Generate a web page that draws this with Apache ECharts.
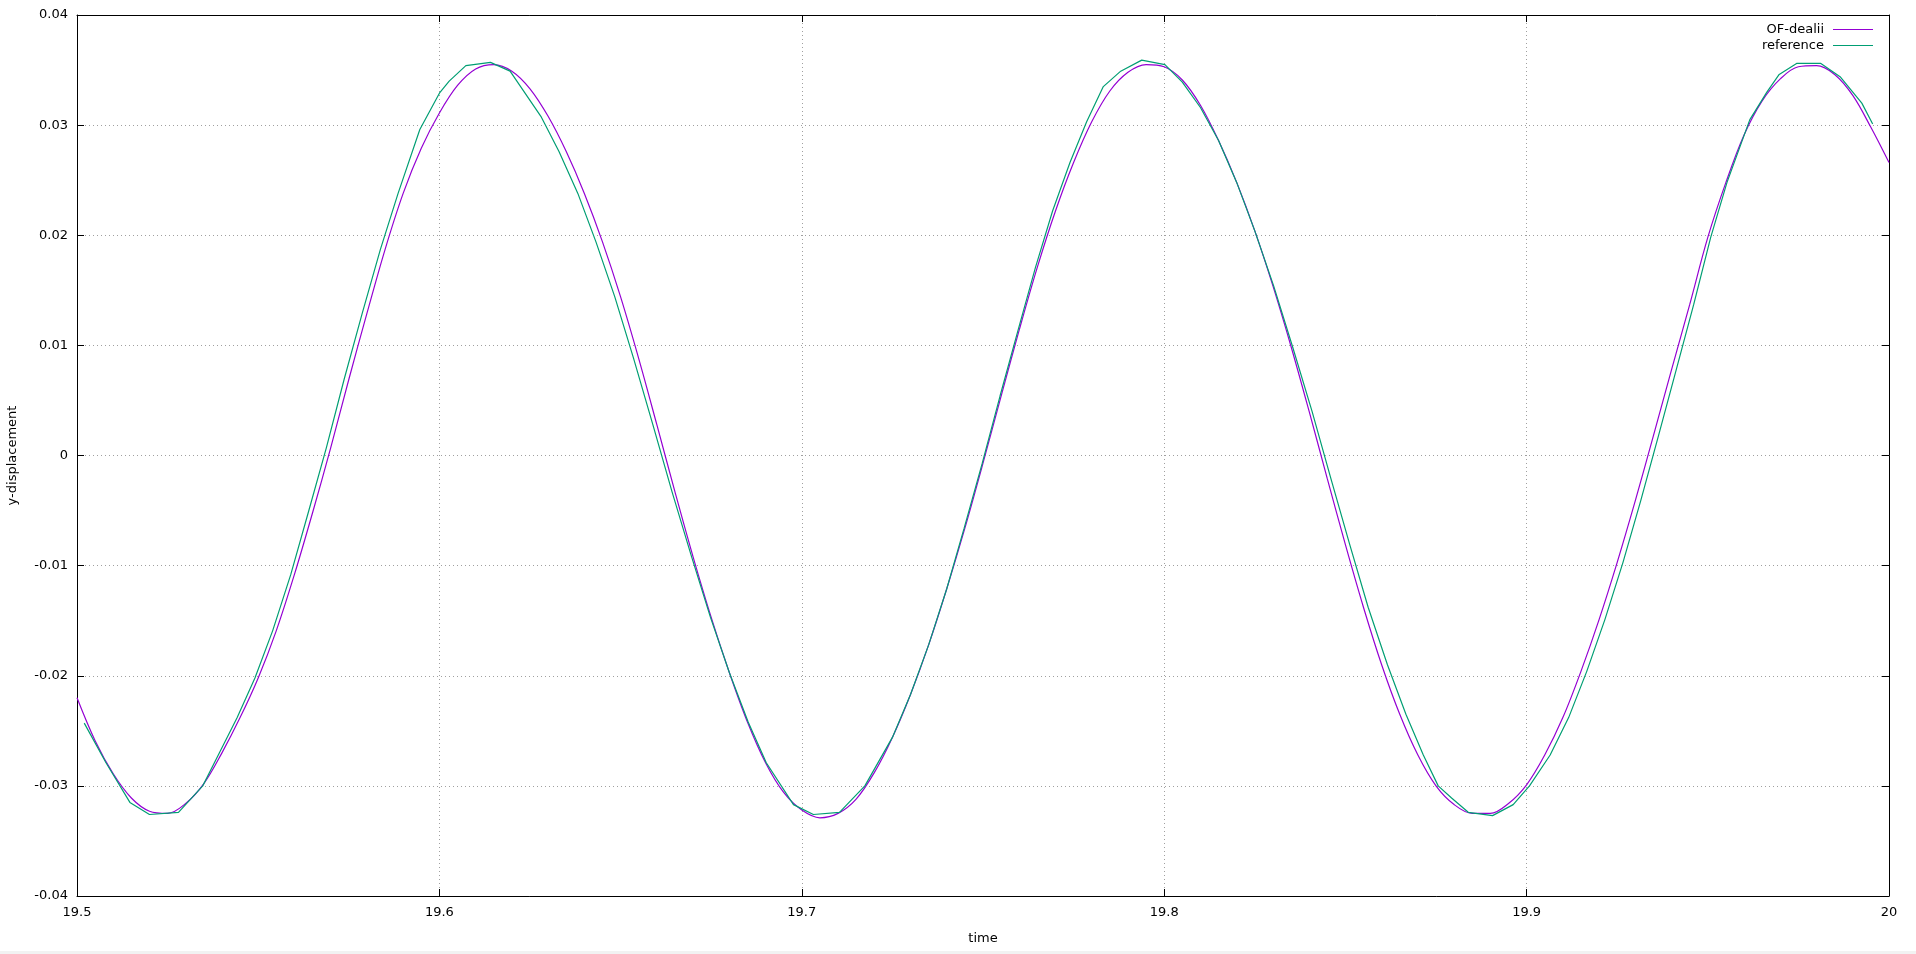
<!DOCTYPE html>
<html>
<head>
<meta charset="utf-8">
<script src="https://cdn.jsdelivr.net/npm/echarts@6/dist/echarts.min.js"></script>
<style>
  html, body { margin: 0; padding: 0; background: #f2f2f2; }
  #chart { width: 1916px; height: 951px; background: #ffffff; }
</style>
</head>
<body>
<div id="chart"></div>
<script>
// ---- data ----
const seriesNames = ['OF-dealii', 'reference'];

const xTicks = [19.5, 19.6, 19.7, 19.8, 19.9, 20.0];
const yTicks = [-0.04, -0.03, -0.02, -0.01, 0, 0.01, 0.02, 0.03, 0.04];

const ofTime = [
  19.500, 19.505, 19.510, 19.515, 19.520, 19.525, 19.530, 19.535, 19.540, 19.545,
  19.550, 19.555, 19.560, 19.565, 19.570, 19.575, 19.580, 19.585, 19.590, 19.595,
  19.600, 19.605, 19.610, 19.615, 19.620, 19.625, 19.630, 19.635, 19.640, 19.645,
  19.650, 19.655, 19.660, 19.665, 19.670, 19.675, 19.680, 19.685, 19.690, 19.695,
  19.700, 19.705, 19.710, 19.715, 19.720, 19.725, 19.730, 19.735, 19.740, 19.745,
  19.750, 19.755, 19.760, 19.765, 19.770, 19.775, 19.780, 19.785, 19.790, 19.795,
  19.800, 19.805, 19.810, 19.815, 19.820, 19.825, 19.830, 19.835, 19.840, 19.845,
  19.850, 19.855, 19.860, 19.865, 19.870, 19.875, 19.880, 19.885, 19.890, 19.895,
  19.900, 19.905, 19.910, 19.915, 19.920, 19.925, 19.930, 19.935, 19.940, 19.945,
  19.950, 19.955, 19.960, 19.965, 19.970, 19.975, 19.980, 19.985, 19.990, 19.995,
  20.000
];
const ofDisp = [
  -0.0220, -0.0259, -0.0289, -0.0311, -0.0323, -0.0325, -0.0316, -0.0298, -0.0270, -0.0238,
  -0.0202, -0.0159, -0.0108, -0.0052, 0.0007, 0.0069, 0.0129, 0.0187, 0.0238, 0.0279,
  0.0311, 0.0336, 0.0351, 0.0355, 0.0349, 0.0333, 0.0308, 0.0276, 0.0238, 0.0194,
  0.0144, 0.0088, 0.0028, -0.0033, -0.0092, -0.0147, -0.0197, -0.0242, -0.0279, -0.0306,
  -0.0322, -0.0329, -0.0325, -0.0312, -0.0288, -0.0256, -0.0217, -0.0172, -0.0121, -0.0066,
  -0.0007, 0.0054, 0.0114, 0.0171, 0.0222, 0.0266, 0.0303, 0.0331, 0.0348, 0.0355,
  0.0353, 0.0341, 0.0318, 0.0286, 0.0248, 0.0204, 0.0154, 0.0099, 0.0040, -0.0021,
  -0.0081, -0.0138, -0.0190, -0.0235, -0.0272, -0.0300, -0.0317, -0.0325, -0.0325, -0.0316,
  -0.0299, -0.0272, -0.0238, -0.0196, -0.0149, -0.0097, -0.0041, 0.0018, 0.0078, 0.0137,
  0.0198, 0.0248, 0.0291, 0.0322, 0.0342, 0.0353, 0.0354, 0.0346, 0.0327, 0.0298,
  0.0266
];

const refTime = [
  19.5020, 19.5080, 19.5146, 19.5200, 19.5280, 19.5347, 19.5393, 19.5442, 19.5491, 19.5540,
  19.5590, 19.5638, 19.5688, 19.5737, 19.5787, 19.5837, 19.5886, 19.5946, 19.6000, 19.6027,
  19.6073, 19.6141, 19.6195, 19.6280, 19.6330, 19.6382, 19.6432, 19.6484, 19.6536, 19.6589,
  19.6642, 19.6696, 19.6748, 19.6800, 19.6852, 19.6902, 19.6977, 19.7032, 19.7104, 19.7174,
  19.7250, 19.7300, 19.7350, 19.7400, 19.7448, 19.7498, 19.7547, 19.7597, 19.7645, 19.7692,
  19.7740, 19.7786, 19.7832, 19.7880, 19.7938, 19.8002, 19.8050, 19.8100, 19.8150, 19.8200,
  19.8250, 19.8302, 19.8354, 19.8408, 19.8460, 19.8512, 19.8563, 19.8616, 19.8667, 19.8715,
  19.8756, 19.8793, 19.8839, 19.8906, 19.8963, 19.9008, 19.9065, 19.9116, 19.9166, 19.9216,
  19.9266, 19.9315, 19.9364, 19.9413, 19.9461, 19.9508, 19.9553, 19.9616, 19.9663, 19.9697,
  19.9745, 19.9812, 19.9865, 19.9925, 19.9955
];
const refDisp = [
  -0.0243, -0.0279, -0.0315, -0.0326, -0.0324, -0.0300, -0.0270, -0.0238, -0.0202, -0.0159,
  -0.0108, -0.0052, 0.0007, 0.0069, 0.0129, 0.0187, 0.0238, 0.0296, 0.0329, 0.0340,
  0.0354, 0.0357, 0.0349, 0.0308, 0.0276, 0.0238, 0.0194, 0.0144, 0.0088, 0.0028,
  -0.0033, -0.0092, -0.0147, -0.0197, -0.0242, -0.0279, -0.0317, -0.0326, -0.0324, -0.0300,
  -0.0256, -0.0217, -0.0172, -0.0121, -0.0066, -0.0007, 0.0054, 0.0114, 0.0171, 0.0222,
  0.0266, 0.0303, 0.0335, 0.0349, 0.0359, 0.0355, 0.0339, 0.0316, 0.0286, 0.0248,
  0.0204, 0.0154, 0.0099, 0.0040, -0.0021, -0.0081, -0.0138, -0.0190, -0.0235, -0.0272,
  -0.0300, -0.0311, -0.0324, -0.0327, -0.0317, -0.0300, -0.0272, -0.0238, -0.0196, -0.0149,
  -0.0097, -0.0041, 0.0018, 0.0078, 0.0137, 0.0198, 0.0248, 0.0305, 0.0330, 0.0346,
  0.0356, 0.0356, 0.0344, 0.0320, 0.0301
];

const colors = ['#9400d3', '#009e73'];

// ---- chart ----
const zip = (a, b) => a.map((t, i) => [t, b[i]]);
const FONT = 'DejaVu Sans';
const gridLine = { show: true, lineStyle: { color: '#a0a0a0', width: 1, type: [1, 3] } };
const axisLineStyle = { show: true, onZero: false, lineStyle: { color: '#000', width: 1 } };
const tickStyle = { show: true, inside: true, length: 7, lineStyle: { color: '#000', width: 1 } };

const xBase = { type: 'value', min: xTicks[0], max: xTicks[xTicks.length - 1], interval: 0.1 };
const yBase = { type: 'value', min: yTicks[0], max: yTicks[yTicks.length - 1], interval: 0.01 };

const chart = echarts.init(document.getElementById('chart'), null, { renderer: 'canvas' });
chart.setOption({
  animation: false,
  backgroundColor: '#ffffff',
  textStyle: { fontFamily: FONT },
  grid: { left: 77, right: 27, top: 15, bottom: 55, containLabel: false, outerBoundsMode: 'none' },
  legend: {
    data: seriesNames,
    orient: 'vertical',
    align: 'right',
    right: 38,
    top: 18,
    icon: 'path://M0,0H40V1.2H0Z',
    itemWidth: 40,
    itemHeight: 14,
    itemGap: 3,
    textStyle: { fontSize: 13, color: '#000', fontFamily: FONT, padding: [0, 4, 0, 0] }
  },
  xAxis: [
    Object.assign({}, xBase, {
      position: 'bottom',
      name: 'time',
      nameLocation: 'middle',
      nameGap: 36,
      nameTextStyle: { fontSize: 13, color: '#000', fontFamily: FONT },
      axisLine: axisLineStyle,
      axisTick: tickStyle,
      axisLabel: { color: '#000', fontSize: 13, fontFamily: FONT, margin: 10,
        formatter: v => String(parseFloat(v.toFixed(1))) },
      splitLine: gridLine
    }),
    Object.assign({}, xBase, {
      position: 'top',
      axisLine: axisLineStyle,
      axisTick: tickStyle,
      axisLabel: { show: false },
      splitLine: { show: false }
    })
  ],
  yAxis: [
    Object.assign({}, yBase, {
      position: 'left',
      name: 'y-displacement',
      nameLocation: 'middle',
      nameGap: 58,
      nameRotate: 90,
      nameTextStyle: { fontSize: 13, color: '#000', fontFamily: FONT },
      axisLine: axisLineStyle,
      axisTick: tickStyle,
      axisLabel: { color: '#000', fontSize: 13, fontFamily: FONT, margin: 9,
        formatter: v => String(parseFloat(v.toFixed(2))) },
      splitLine: gridLine
    }),
    Object.assign({}, yBase, {
      position: 'right',
      axisLine: axisLineStyle,
      axisTick: tickStyle,
      axisLabel: { show: false },
      splitLine: { show: false }
    })
  ],
  series: [
    {
      name: seriesNames[0],
      type: 'line',
      xAxisIndex: 0, yAxisIndex: 0,
      data: zip(ofTime, ofDisp),
      smooth: 0.35,
      symbol: 'none',
      color: colors[0],
      lineStyle: { color: colors[0], width: 1.2 },
      z: 3
    },
    {
      name: seriesNames[1],
      type: 'line',
      xAxisIndex: 0, yAxisIndex: 0,
      data: zip(refTime, refDisp),
      smooth: false,
      symbol: 'none',
      color: colors[1],
      lineStyle: { color: colors[1], width: 1.2 },
      z: 4
    }
  ]
});
</script>
</body>
</html>
